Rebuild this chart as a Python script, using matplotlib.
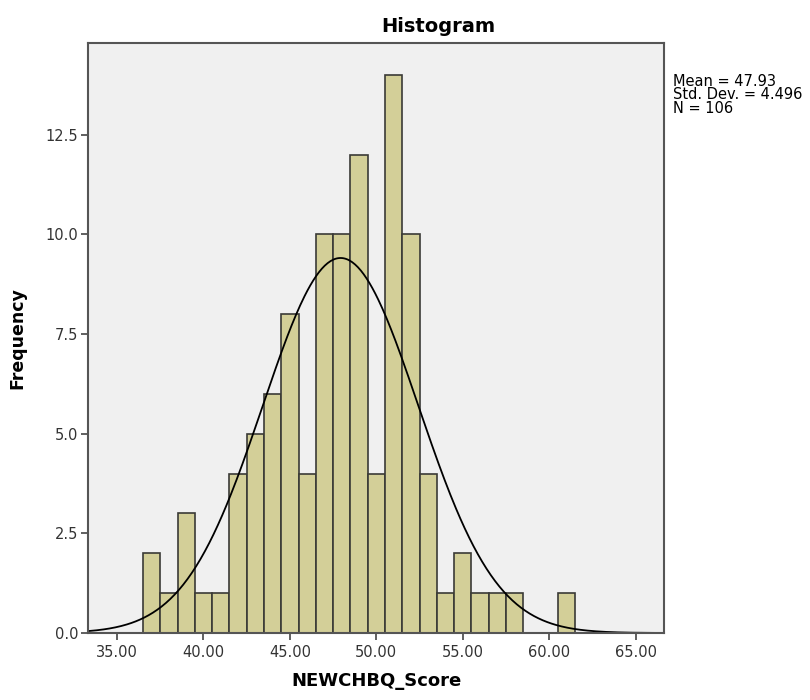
import numpy as np
import matplotlib.pyplot as plt

# bin centres (width 1) and counts
scores = [37, 38, 39, 40, 41, 42, 43, 44, 45, 46, 47, 48, 49, 50,
          51, 52, 53, 54, 55, 56, 57, 58, 59, 60, 61]
counts = [2, 1, 3, 1, 1, 4, 5, 6, 8, 4, 10, 10, 12, 4,
          14, 10, 4, 1, 2, 1, 1, 1, 0, 0, 1]
mean = 47.93
std = 4.496
n = 106
xticks = [35, 40, 45, 50, 55, 60, 65]
yticks = [0.0, 2.5, 5.0, 7.5, 10.0, 12.5]

fig = plt.figure(figsize=(8.1, 7), dpi=100)
ax = fig.add_axes([0.1086, 0.0957, 0.7112, 0.843])
ax.set_facecolor('#f0f0f0')

ax.bar(scores, counts, width=1.0, color='#d3cf98', edgecolor='#3a3a36', linewidth=1.2)

# normal curve scaled to counts (bin width 1)
xs = np.linspace(33.32, 66.64, 400)
ys = n / (std * np.sqrt(2 * np.pi)) * np.exp(-0.5 * ((xs - mean) / std) ** 2)
ax.plot(xs, ys, color='black', linewidth=1.3)

ax.set_xlim(33.32, 66.64)
ax.set_ylim(0, 14.8)
ax.set_xticks(xticks)
ax.set_xticklabels(['%.2f' % t for t in xticks])
ax.set_yticks(yticks)
ax.set_yticklabels(['%.1f' % t for t in yticks])
ax.tick_params(axis='both', direction='out', length=5, width=1.2,
               colors='#444444', labelsize=10.5, labelcolor='#333333')
ax.tick_params(axis='y', pad=2)
for s in ax.spines.values():
    s.set_color('#555555')
    s.set_linewidth(1.5)

# title sits centred over the whole chart area, not just the axes
fig.text(0.541, 0.962, 'Histogram', fontsize=14, fontweight='bold', ha='center', va='center')
ax.set_xlabel('NEWCHBQ_Score', fontsize=13, fontweight='bold', labelpad=9)
ax.set_ylabel('Frequency', fontsize=12.5, fontweight='bold', labelpad=14)

fig.text(0.831, 0.894, 'Mean = %.2f\nStd. Dev. = %.3f\nN = %d' % (mean, std, n),
         fontsize=10.5, va='top', ha='left', linespacing=0.85)

fig.savefig('out.png', dpi=100)
